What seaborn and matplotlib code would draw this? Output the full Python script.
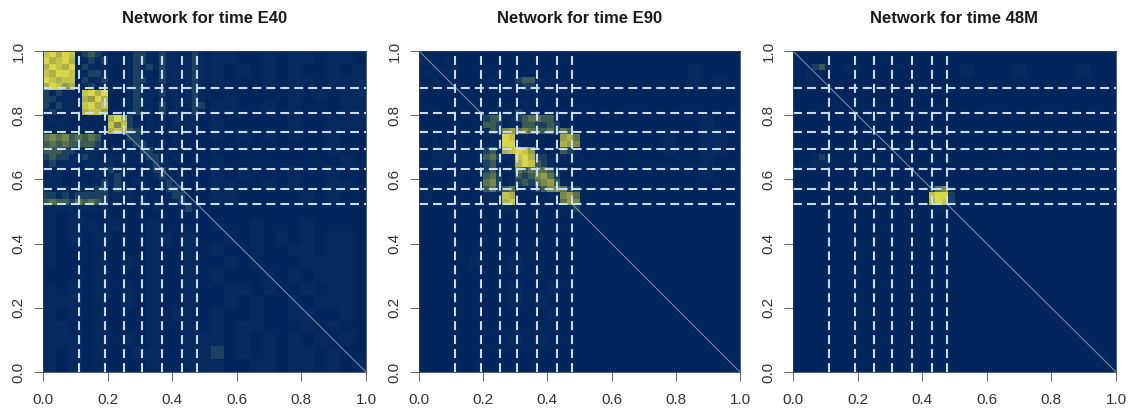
import numpy as np
import pandas as pd
import matplotlib
matplotlib.use("Agg")
import matplotlib.pyplot as plt
import seaborn as sns
from matplotlib.colors import LinearSegmentedColormap

# tytuly i osie
titles = ["Network for time E40", "Network for time E90", "Network for time 48M"]
tick_values = [0.0, 0.2, 0.4, 0.6, 0.8, 1.0]
tick_labels = ["0.0", "0.2", "0.4", "0.6", "0.8", "1.0"]

# granice modulow (przerywane linie)
cuts_x = [0.113, 0.193, 0.252, 0.306, 0.367, 0.431, 0.476]
cuts_y = [0.886, 0.808, 0.747, 0.694, 0.633, 0.569, 0.524]

# widoczne odcinki przekatnej
diag_parts = [[(0.25, 1.0)], [(0.0, 0.2), (0.476, 1.0)], [(0.0, 0.431), (0.476, 1.0)]]

# cala macierz, komorka 0.04, wiersze od y=1 w dol
back_e40 = [
    "0000000000000110010110110",
    "0000000000000101010100101",
    "0000000000000100010110111",
    "0000000000000010000101011",
    "0000000000000110010100011",
    "0000000000000100000100111",
    "0000000000000101010100100",
    "0000000000000000000000100",
    "0000000000000100000000010",
    "0000000000000101000100100",
    "0000000000000110010100110",
    "0000000000000110000010100",
    "1010000000000000000000000",
    "1011010010000100100010000",
    "1010100011010010101010110",
    "1000100010010100100110110",
    "1000101010010010100011110",
    "0000100010010100010101110",
    "1010101010010011010010110",
    "1110101010010010100101110",
    "1010100010110100100110010",
    "1100100010010101100010100",
    "1110101010011101010101010",
    "1010100110011201010110100",
    "1010100010011100110110101",
]
back_e90 = [
    "0000000000000000000000000",
    "0000000000000000000001000",
    "0000000000000000000001010",
    "0000000000000000000000000",
    "0000000000000000000000000",
    "0000000000000000000000100",
    "0000000000000000000100110",
    "0000000000000000000100110",
    "0000000000000000000000100",
    "0000000000000000000000100",
    "0000000000000000000000000",
    "0000000000000000000000000",
    "0000000000000000000000000",
    "0000000000000000000000000",
    "0000000000000000000000000",
    "0000000000000000000000000",
    "0000100100000000000000000",
    "0000000000000000000000000",
    "0000000100100000000000000",
    "0000000101000000000000000",
    "0000000000100000000000000",
    "0000000000000000000000000",
    "0000000101000000000000000",
    "0000000000000000000000000",
    "0000000000000000000000000",
]
back_48m = [
    "0000000000000000000000000",
    "0000000000000100010000100",
    "0000000000000000000000000",
    "0000000000000000000000000",
    "0000000000000000000000000",
    "0000000000000000000000000",
    "0000000000000000000000000",
    "0000000000000000000000000",
    "0000000000000000000000000",
    "0000000000000000000000000",
    "0000000000000000000000000",
    "0000000000000000000000000",
    "0000000000000000000000000",
    "0000000000000000000000000",
    "0000000000000000000000000",
    "0000000000000000000000000",
    "0000000000000000000000000",
    "0000000000000000000000000",
    "0000000000000000000000000",
    "0000000000000000000000000",
    "0000000000000000000000000",
    "0000000000000000000000000",
    "0000000000000000000000000",
    "0000000000000000000000000",
    "0000000000000000000000000",
]

# lewy gorny fragment (x 0-0.5, y 1-0.5), komorka 0.02
top_e40 = [
    "8979802321000122112110121",
    "9789701212000122102110121",
    "7987902111000121212110121",
    "8799801221000121102010121",
    "9878802112000122112110121",
    "7986701211000121111010121",
    "2121108979000121112010121",
    "2211107697000121101010121",
    "2121108978000121112010122",
    "1211107886000121102010021",
    "0101000010797200101010110",
    "1010000000858210101010110",
    "1101000100787320101010100",
    "4545343431000221101010000",
    "3434333321000122101010000",
    "3332211110100012210101000",
    "2322112111111001221010000",
    "1211101111101000121100000",
    "1111001011211100022100000",
    "0110000011121000012110000",
    "1110000012121011001211000",
    "1111011122121101100221000",
    "2212122222111101000122000",
    "3433243432110101010012100",
    "1111111111000000010001210",
]
top_e90 = [
    "0000000000000000000000000",
    "1000100000000000000000000",
    "0010010000000000000000000",
    "0100100000001000000000000",
    "0010000000010002331100000",
    "0100000000000001220000000",
    "0000000000000000000000000",
    "0000000000000000000000000",
    "0000000000001000100000000",
    "0000000001000012110000000",
    "0000000000233112344331000",
    "0000000000332011332232000",
    "1010000000132564543342430",
    "1010100000010980100000674",
    "1010100000010991000000765",
    "0011100000231789861101321",
    "0011100000342118972211100",
    "0011000000231017983210000",
    "0010000000231014344431100",
    "0000000000342003235642000",
    "0000000000452012324563100",
    "0000000000342341112355422",
    "0100000000111870000011564",
    "0100000000010780000000465",
    "0000000000000110000000012",
]
top_48m = [
    "0000000000000000000000000",
    "0000000000000000000000000",
    "0012310010000000100000000",
    "0010100000000000000000000",
    "0010000000000000000000000",
    "0000000000000000000000000",
    "0000000000000000000000000",
    "0000000000000000000000000",
    "0000000000000000000000000",
    "0000000000000000000000000",
    "0000000000000000000000000",
    "0000000000000000000000000",
    "0000000000000000000000000",
    "0000000000000000000000000",
    "0000000000000000000000000",
    "0000000000000000000000000",
    "0001210000000000000000000",
    "0001110000000000000000000",
    "0000000000000000000000000",
    "0000000000000000000000000",
    "0000000000000000000000000",
    "0000000000000110000002451",
    "0000000000001001000008992",
    "0000000000000110000007982",
    "0000000000000000000000110",
]

backs = [back_e40, back_e90, back_48m]
tops = [top_e40, top_e90, top_48m]

# polozenie paneli w pikselach: lewo, prawo
panel_px = [(43, 366), (419, 740), (793, 1116)]
top_px, bottom_px = 51, 372
W, H = 1137, 412


def to_grid(rows):
    return np.array([[int(c) for c in r] for r in rows], dtype=float) / 9.0


def build_matrix(back, top):
    # siatka 200x200
    m = np.repeat(np.repeat(to_grid(back), 8, axis=0), 8, axis=1)
    t = np.repeat(np.repeat(to_grid(top), 4, axis=0), 4, axis=1)
    m[:100, :100] = t
    return m


cmap = LinearSegmentedColormap.from_list(
    "net",
    [(0.0, "#02255b"), (0.12, "#072b5e"), (0.22, "#1c4060"), (0.38, "#4a6650"), (0.68, "#9a9f4a"), (1.0, "#dad64a")],
)

sns.set_style("white")
plt.rcParams["font.family"] = ["Liberation Sans", "DejaVu Sans"]

fig = plt.figure(figsize=(W / 100, H / 100), dpi=100)

for i, title in enumerate(titles):
    left, right = panel_px[i]
    ax = fig.add_axes([left / W, 1 - bottom_px / H, (right - left) / W, (bottom_px - top_px) / H])
    m = build_matrix(backs[i], tops[i])
    n = m.shape[0]
    sns.heatmap(pd.DataFrame(m), ax=ax, cmap=cmap, vmin=0, vmax=1, cbar=False,
                xticklabels=False, yticklabels=False, rasterized=True)

    for a, b in diag_parts[i]:
        ax.plot([a * n, b * n], [a * n, b * n], color="#7d97b4", linewidth=0.7)

    for c in cuts_x:
        ax.plot([c * n, c * n], [n, 0], color="#c8dcf1", linewidth=1.5, linestyle=(0, (4.3, 2.4)))
    for c in cuts_y:
        ax.plot([0, n], [(1 - c) * n, (1 - c) * n], color="#c8dcf1", linewidth=1.5, linestyle=(0, (4.3, 2.4)))

    ax.set_xlim(0, n)
    ax.set_ylim(n, 0)
    ax.set_xticks([v * n for v in tick_values])
    ax.set_xticklabels(tick_labels, fontsize=11, color="#333333")
    ax.set_yticks([(1 - v) * n for v in tick_values])
    ax.set_yticklabels(tick_labels, fontsize=11, color="#333333", rotation=90, va="center")
    ax.tick_params(axis="x", length=6.5, width=0.7, color="#666666", pad=8.5, bottom=True)
    ax.tick_params(axis="y", length=6.5, width=0.7, color="#666666", pad=6, left=True)
    for sp in ax.spines.values():
        sp.set_visible(True)
        sp.set_color("#2a4268")
        sp.set_linewidth(0.6)
    ax.set_title(title, fontsize=12, fontweight="bold", color="#1a1a1a", pad=20)

fig.savefig("out.png", dpi=100)
